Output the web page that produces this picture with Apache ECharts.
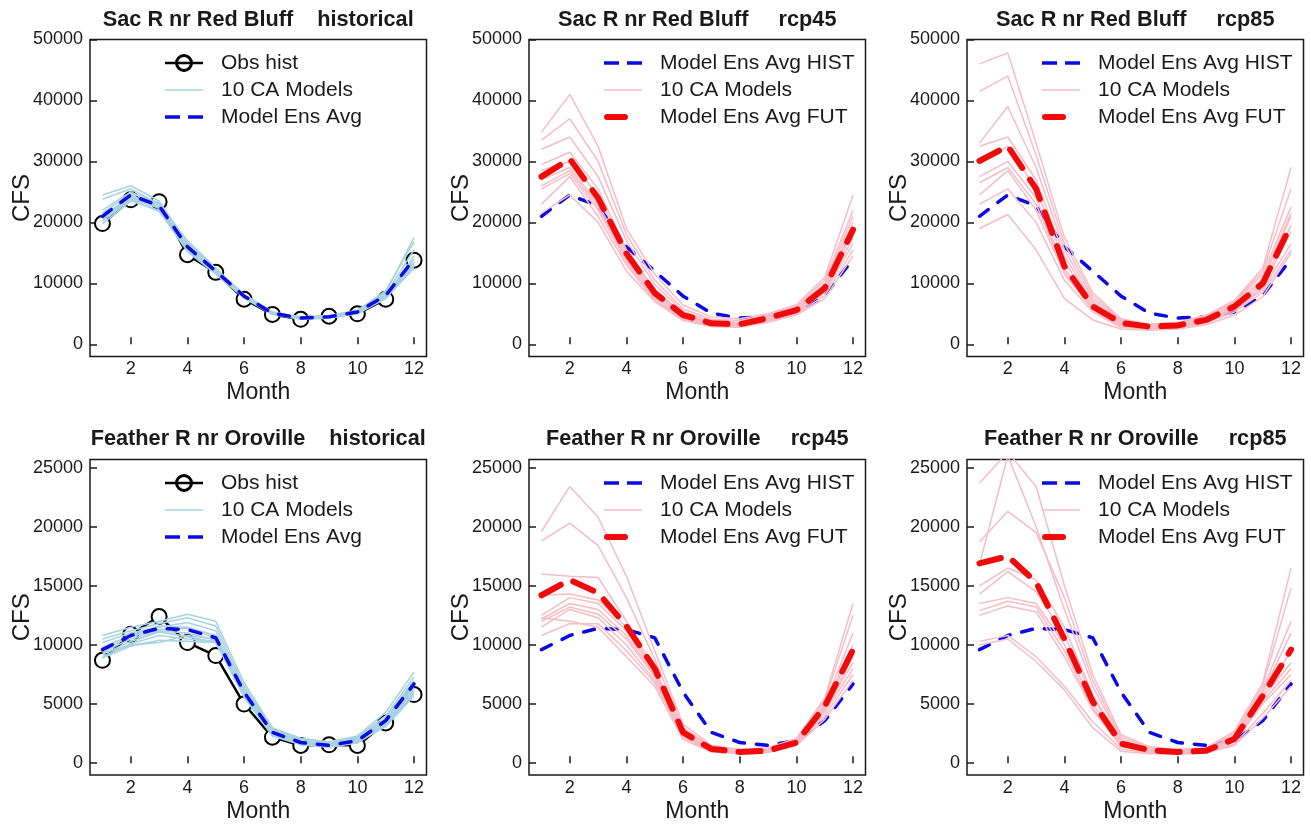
<!DOCTYPE html>
<html>
<head>
<meta charset="utf-8">
<script src="https://cdn.jsdelivr.net/npm/echarts@6/dist/echarts.min.js"></script>
<style>
html,body{margin:0;padding:0;background:#fff;}
#chart{width:1311px;height:824px;}
</style>
</head>
<body>
<div id="chart"></div>
<script>
// ---------- DATA ----------
const months = [1,2,3,4,5,6,7,8,9,10,11,12];
const xTicks = [2,4,6,8,10,12];
const yTicksSac = [0,10000,20000,30000,40000,50000];
const yTicksFeather = [0,5000,10000,15000,20000,25000];

const stations = ['Sac R nr Red Bluff', 'Feather R nr Oroville'];
const scenarios = ['historical', 'rcp45', 'rcp85'];

// Sacramento R nr Red Bluff
const sacObsHist = [19800, 23700, 23400, 14700, 11800, 7400, 4900, 4100, 4600, 5000, 7400, 13800];
const sacEnsHist = [21000, 24500, 22700, 16000, 12000, 7900, 5100, 4300, 4500, 5300, 8000, 14000];
const sacModelsHist = [
  [24500, 26000, 23500, 16500, 12300, 8200, 5300, 4500, 4700, 5600, 8500, 17500],
  [23800, 25500, 23000, 17000, 12500, 8000, 5200, 4400, 4600, 5500, 8800, 16800],
  [22000, 25000, 22800, 15800, 12000, 7800, 5000, 4200, 4400, 5200, 8200, 15500],
  [21500, 24800, 23200, 16200, 11800, 7900, 5100, 4300, 4500, 5400, 7800, 14500],
  [21000, 24200, 22500, 16500, 12200, 8100, 5200, 4400, 4600, 5300, 8100, 14000],
  [20500, 24000, 22300, 15500, 11600, 7700, 5000, 4200, 4400, 5100, 7700, 13500],
  [20200, 23700, 23000, 16000, 12100, 7900, 5100, 4300, 4500, 5300, 7900, 13200],
  [19800, 23500, 22000, 15200, 11500, 7600, 4900, 4100, 4300, 5000, 7500, 12800],
  [20800, 24500, 22500, 16800, 12400, 8000, 5100, 4300, 4500, 5200, 8000, 13000],
  [21200, 23800, 21800, 15600, 11900, 7800, 5000, 4200, 4400, 5300, 7600, 12500]
];
const sacEnsRcp45 = [27500, 30400, 24000, 14900, 8400, 4800, 3450, 3300, 4300, 5600, 9200, 18800];
const sacModelsRcp45 = [
  [34800, 41000, 32500, 19000, 11500, 6400, 4500, 4200, 5000, 6500, 11000, 24500],
  [33500, 37000, 30000, 18000, 10500, 5800, 4100, 3900, 4800, 6200, 10500, 22000],
  [32000, 34000, 27500, 17000, 9800, 5400, 3800, 3600, 4600, 6000, 10000, 21000],
  [29500, 31500, 25500, 15500, 9000, 5000, 3600, 3400, 4400, 5800, 9500, 20000],
  [28500, 30000, 24500, 15000, 8600, 4900, 3500, 3300, 4300, 5700, 9300, 19000],
  [27000, 29000, 23000, 14500, 8200, 4700, 3400, 3200, 4200, 5500, 9000, 18500],
  [26000, 28500, 22500, 14000, 7800, 4500, 3300, 3100, 4100, 5400, 8800, 17500],
  [25500, 28000, 22000, 13500, 7500, 4300, 3100, 3000, 4000, 5200, 8500, 16500],
  [23000, 27500, 21000, 13000, 7200, 4100, 3000, 2900, 3800, 5000, 8000, 15500],
  [21500, 24500, 20000, 12000, 7000, 3900, 2900, 2800, 3600, 4800, 7500, 14500]
];
const sacEnsRcp85 = [30100, 32500, 25500, 12800, 6200, 3500, 2900, 3100, 4000, 6200, 10000, 19600];
const sacModelsRcp85 = [
  [46000, 47800, 33000, 17500, 8500, 4200, 3300, 3600, 4800, 7200, 12500, 29000],
  [41500, 44000, 31000, 16500, 8000, 4000, 3200, 3500, 4600, 7000, 12000, 25500],
  [33000, 39000, 29000, 15500, 7500, 3800, 3100, 3400, 4500, 6800, 11500, 22500],
  [32500, 34000, 27000, 14500, 7000, 3600, 3000, 3300, 4300, 6500, 10800, 21500],
  [29500, 32500, 25500, 13500, 6800, 3500, 2900, 3200, 4200, 6300, 10300, 21000],
  [27500, 30000, 24000, 12500, 6300, 3300, 2800, 3000, 4000, 6000, 9800, 19500],
  [26500, 29000, 23000, 12000, 6000, 3200, 2700, 2900, 3800, 5800, 9300, 18500],
  [24500, 28500, 22000, 11500, 5700, 3000, 2600, 2800, 3700, 5600, 9000, 16500],
  [23000, 25500, 20000, 10500, 5300, 2800, 2500, 2700, 3500, 5300, 8500, 15500],
  [19000, 21300, 15500, 7500, 4000, 2500, 2300, 2500, 3200, 4800, 7800, 15000]
];

// Feather R nr Oroville
const feaObsHist = [8700, 10900, 12400, 10200, 9100, 5000, 2200, 1500, 1550, 1500, 3400, 5800];
const feaEnsHist = [9600, 10800, 11400, 11300, 10600, 6000, 2600, 1750, 1500, 1900, 3600, 6700];
const feaModelsHist = [
  [10800, 11500, 12000, 12600, 12000, 6800, 3000, 2100, 1800, 2300, 4300, 7700],
  [10500, 11200, 11800, 12300, 11600, 6500, 2900, 2000, 1700, 2200, 4000, 7300],
  [10200, 11000, 11500, 11900, 11200, 6300, 2800, 1900, 1600, 2100, 3800, 7000],
  [9800, 10800, 11600, 11500, 10800, 6100, 2700, 1800, 1550, 2000, 3700, 6800],
  [9600, 10700, 11300, 11400, 10600, 6000, 2600, 1750, 1500, 1900, 3600, 6600],
  [9400, 10500, 11200, 11000, 10400, 5900, 2500, 1700, 1450, 1850, 3500, 6400],
  [9200, 10300, 11100, 10700, 10200, 5800, 2450, 1650, 1400, 1800, 3400, 6200],
  [9000, 10100, 10800, 10500, 10300, 5700, 2400, 1600, 1400, 1750, 3300, 6000],
  [8900, 9900, 10400, 10300, 10200, 5600, 2300, 1550, 1350, 1700, 3200, 5900],
  [9300, 10000, 10200, 10800, 10500, 5900, 2500, 1700, 1450, 1800, 3100, 5700]
];
const feaEnsRcp45 = [14200, 15500, 14400, 11600, 8000, 2600, 1200, 950, 1050, 1750, 4800, 9600];
const feaModelsRcp45 = [
  [19600, 23400, 20800, 15800, 9500, 3300, 1500, 1150, 1300, 2100, 5500, 13500],
  [18800, 20300, 18400, 14000, 8800, 3000, 1400, 1100, 1200, 2000, 5300, 12500],
  [16000, 15800, 15700, 12000, 8000, 2800, 1300, 1000, 1100, 1900, 5000, 11000],
  [14200, 14300, 13800, 11500, 7800, 2700, 1250, 950, 1050, 1800, 4900, 10000],
  [12500, 14000, 13500, 11200, 7600, 2600, 1200, 950, 1050, 1750, 4800, 9500],
  [12200, 13500, 13000, 10800, 7400, 2500, 1150, 900, 1000, 1700, 4600, 9000],
  [12000, 13200, 12600, 10500, 7300, 2400, 1100, 900, 1000, 1650, 4500, 8500],
  [11500, 13000, 12300, 10000, 7000, 2300, 1050, 850, 950, 1600, 4300, 8000],
  [10800, 11800, 11800, 9500, 6800, 2200, 1000, 850, 950, 1550, 4000, 7500],
  [12300, 12000, 11500, 9000, 6500, 2000, 950, 800, 900, 1500, 3700, 7000]
];
const feaEnsRcp85 = [16900, 17500, 15300, 10500, 5200, 1650, 1100, 950, 1050, 2050, 5700, 9600];
const feaModelsRcp85 = [
  [23700, 26300, 23400, 15000, 7500, 2400, 1400, 1150, 1300, 2700, 6800, 16500],
  [18700, 21300, 19500, 14000, 7000, 2200, 1300, 1100, 1250, 2500, 6500, 14800],
  [16800, 26000, 20000, 13000, 6500, 2000, 1200, 1000, 1150, 2300, 6200, 12000],
  [15000, 16500, 15500, 11500, 5800, 1800, 1150, 1000, 1100, 2200, 6000, 11000],
  [14300, 16200, 14500, 10800, 5500, 1700, 1100, 950, 1050, 2100, 5700, 9500],
  [13500, 14000, 13500, 10000, 5000, 1600, 1050, 900, 1000, 2000, 5500, 8500],
  [12900, 13700, 13200, 9500, 4700, 1500, 1000, 900, 1000, 1900, 5200, 8000],
  [12500, 13300, 12800, 9000, 4500, 1400, 950, 850, 950, 1800, 5000, 7500],
  [10300, 10800, 9000, 6500, 3500, 1200, 850, 800, 900, 1600, 4200, 7000],
  [10000, 10500, 8600, 6200, 3000, 1000, 800, 750, 850, 1500, 3800, 6500]
];

// ---------- LAYOUT / STYLE ----------
const FONT = '"Liberation Sans", Arial, Helvetica, sans-serif';
const INK = '#1a1a1a';
const colLeft = [90, 529, 967];
const rowTop = [39.5, 459.5];
const boxW = 336.5, boxH = 317;
const yRange = [[-2000, 50000], [-1000, 25680]];
const xRange = [0.56, 12.44];

const OBS = 'Obs hist', MODELS = '10 CA Models', ENS = 'Model Ens Avg',
      ENSH = 'Model Ens Avg HIST', ENSF = 'Model Ens Avg FUT';

const histModelColor = '#a9d3e3';
const futModelColor = '#f7bcc6';
const blue = '#0a0ae6';
const red = '#f00a0a';

// legend key glyphs, drawn in a 38 x 18 frame (corner moveTo's fix the frame)
const FRAME = 'M0,0 M38,18 ';
const iconObs = 'path://' + FRAME +
  'M0,7.8 H38 V10.2 H0 Z ' +
  'M28,9 A9,9 0 1 1 10,9 A9,9 0 1 1 28,9 Z ' +
  'M25,9 A6,6 0 1 0 13,9 A6,6 0 1 0 25,9 Z';
const iconModels = 'path://' + FRAME + 'M0,8.2 H38 V9.8 H0 Z';
const iconEns = 'path://' + FRAME + 'M0,7.2 H15 V10.8 H0 Z M23,7.2 H38 V10.8 H23 Z';
const iconFut = 'path://' + FRAME + 'M3,6 H21 A3,3 0 0 1 21,12 H3 A3,3 0 0 1 3,6 Z';

const panels = [
  {row:0, col:0, obs:sacObsHist, hist:sacEnsHist, models:sacModelsHist, fut:null},
  {row:0, col:1, obs:null, hist:sacEnsHist, models:sacModelsRcp45, fut:sacEnsRcp45},
  {row:0, col:2, obs:null, hist:sacEnsHist, models:sacModelsRcp85, fut:sacEnsRcp85},
  {row:1, col:0, obs:feaObsHist, hist:feaEnsHist, models:feaModelsHist, fut:null},
  {row:1, col:1, obs:null, hist:feaEnsHist, models:feaModelsRcp45, fut:feaEnsRcp45},
  {row:1, col:2, obs:null, hist:feaEnsHist, models:feaModelsRcp85, fut:feaEnsRcp85}
];

const toPts = vals => months.map((m, i) => [m, vals[i]]);

const grid = [], xAxis = [], yAxis = [], series = [], legend = [], title = [];

panels.forEach((p, i) => {
  const left = colLeft[p.col], top = rowTop[p.row];
  const yTicks = p.row === 0 ? yTicksSac : yTicksFeather;
  const pre = 'p' + i + '|';
  grid.push({left: left, top: top, width: boxW, height: boxH, show: true,
    borderColor: INK, borderWidth: 1.5, backgroundColor: 'transparent', containLabel: false});
  xAxis.push({
    type: 'value', gridIndex: i, min: xRange[0], max: xRange[1],
    axisLine: {show: false},
    axisTick: {show: true, inside: true, length: 7, customValues: xTicks, lineStyle: {color: INK, width: 1.5}},
    axisLabel: {customValues: xTicks, fontSize: 18, color: INK, fontFamily: FONT, margin: 4,
      formatter: v => String(v)},
    splitLine: {show: false},
    name: 'Month', nameLocation: 'middle', nameGap: 25,
    nameTextStyle: {fontSize: 23, color: INK, fontFamily: FONT}
  });
  yAxis.push({
    type: 'value', gridIndex: i, min: yRange[p.row][0], max: yRange[p.row][1],
    axisLine: {show: false},
    axisTick: {show: true, inside: true, length: 7, customValues: yTicks, lineStyle: {color: INK, width: 1.5}},
    axisLabel: {customValues: yTicks, fontSize: 18, color: INK, fontFamily: FONT, margin: 7,
      formatter: v => String(v)},
    splitLine: {show: false},
    name: 'CFS', nameLocation: 'middle', nameGap: 56, nameMoveOverlap: false,
    nameTextStyle: {fontSize: 24, color: INK, fontFamily: FONT}
  });
  title.push({
    text: stations[p.row] + (p.col === 0 ? '    ' : '     ') + scenarios[p.col],
    left: left + boxW / 2, top: p.row === 0 ? 20 : 439,
    textAlign: 'center', textVerticalAlign: 'middle', padding: 0,
    textStyle: {fontSize: 21.7, fontWeight: 'bold', color: INK, fontFamily: FONT}
  });

  const base = {type: 'line', xAxisIndex: i, yAxisIndex: i, silent: true, animation: false, clip: true, z: 2};
  const legendData = [];
  const key = (name, icon, color) => ({name: pre + name, icon: icon,
    itemStyle: {color: color, borderWidth: 0, opacity: 1}});
  if (p.obs) {
    series.push(Object.assign({}, base, {
      name: pre + OBS, data: toPts(p.obs), symbol: 'emptyCircle', symbolSize: 15, z: 1,
      color: '#000',
      itemStyle: {color: '#000', borderColor: '#000', borderWidth: 3.2},
      lineStyle: {color: '#000', width: 2.5}
    }));
    legendData.push(key(OBS, iconObs, '#000'));
    p.models.forEach(m => series.push(Object.assign({}, base, {
      name: pre + MODELS, data: toPts(m), symbol: 'none', color: histModelColor,
      lineStyle: {color: histModelColor, width: 1.6}
    })));
    legendData.push(key(MODELS, iconModels, histModelColor));
    series.push(Object.assign({}, base, {
      name: pre + ENS, data: toPts(p.hist), symbol: 'none', color: blue,
      lineStyle: {color: blue, width: 3.5, type: [11, 12], cap: 'round', join: 'round'}
    }));
    legendData.push(key(ENS, iconEns, blue));
  } else {
    series.push(Object.assign({}, base, {
      name: pre + ENSH, data: toPts(p.hist), symbol: 'none', color: blue,
      lineStyle: {color: blue, width: 3.5, type: [11, 12], cap: 'round', join: 'round'}
    }));
    legendData.push(key(ENSH, iconEns, blue));
    p.models.forEach(m => series.push(Object.assign({}, base, {
      name: pre + MODELS, data: toPts(m), symbol: 'none', color: futModelColor,
      lineStyle: {color: futModelColor, width: 1.5}
    })));
    legendData.push(key(MODELS, iconModels, futModelColor));
    series.push(Object.assign({}, base, {
      name: pre + ENSF, data: toPts(p.fut), symbol: 'none', color: red,
      lineStyle: {color: red, width: 6, type: [22, 14], cap: 'round', join: 'round'}
    }));
    legendData.push(key(ENSF, iconFut, red));
  }
  legend.push({
    orient: 'vertical', left: left + 75, top: top + 13, padding: 0,
    itemWidth: 38, itemHeight: 18, itemGap: 6, symbolKeepAspect: false,
    data: legendData, selectedMode: false,
    formatter: n => n.split('|')[1],
    textStyle: {fontSize: 21, color: INK, fontFamily: FONT, padding: [0, 0, 0, 13]}
  });
});

const chart = echarts.init(document.getElementById('chart'), null, {renderer: 'canvas'});
chart.setOption({
  backgroundColor: '#fff',
  animation: false,
  title: title,
  grid: grid,
  xAxis: xAxis,
  yAxis: yAxis,
  legend: legend,
  series: series
});
</script>
</body>
</html>
